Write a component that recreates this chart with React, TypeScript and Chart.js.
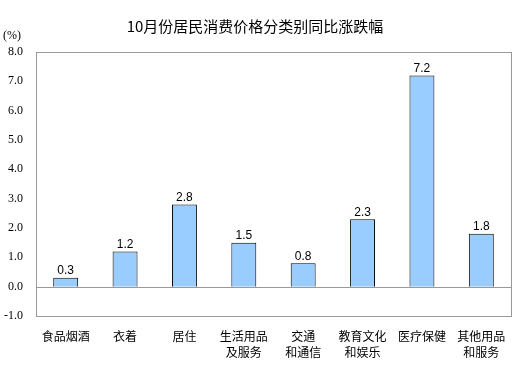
import React, { useEffect, useRef } from "react";
import { Chart, registerables } from "chart.js";

Chart.register(...registerables);

const title = "10月份居民消费价格分类别同比涨跌幅";
const unitLabel = "(%)";
const categories: (string | string[])[] = [
  "食品烟酒",
  "衣着",
  "居住",
  ["生活用品", "及服务"],
  ["交通", "和通信"],
  ["教育文化", "和娱乐"],
  "医疗保健",
  ["其他用品", "和服务"],
];
const values = [0.3, 1.2, 2.8, 1.5, 0.8, 2.3, 7.2, 1.8];
const yMin = -1;
const yMax = 8;

const decorPlugin = {
  id: "decor",
  afterDatasetsDraw(chart: any) {
    const { ctx, chartArea } = chart;
    const y = chart.scales.y;
    ctx.save();
    ctx.strokeStyle = "#999999";
    ctx.lineWidth = 1;
    const y0 = Math.round(y.getPixelForValue(0)) + 0.5;
    ctx.beginPath();
    ctx.moveTo(chartArea.left, y0);
    ctx.lineTo(chartArea.right, y0);
    ctx.stroke();
    ctx.strokeRect(
      Math.round(chartArea.left) + 0.5,
      Math.round(chartArea.top) + 0.5,
      Math.round(chartArea.right - chartArea.left),
      Math.round(chartArea.bottom - chartArea.top)
    );
    const meta = chart.getDatasetMeta(0);
    ctx.fillStyle = "#000";
    ctx.font = "12px 'Liberation Sans', Arial, sans-serif";
    ctx.textAlign = "center";
    ctx.textBaseline = "bottom";
    meta.data.forEach((bar: any, i: number) => {
      ctx.fillText(values[i].toFixed(1), bar.x, bar.y - 1);
    });
    ctx.font = "15px 'Noto Sans CJK SC', sans-serif";
    ctx.textBaseline = "middle";
    ctx.fillText(title, 255, 26);
    ctx.font = "12px 'Liberation Serif', serif";
    ctx.textAlign = "left";
    ctx.fillText(unitLabel, 3, 36);
    ctx.restore();
  },
};

export default function App() {
  const ref = useRef<HTMLCanvasElement>(null);
  useEffect(() => {
    document.body.style.margin = "0";
    const chart = new Chart(ref.current!, {
      type: "bar",
      data: {
        labels: categories,
        datasets: [
          {
            data: values,
            backgroundColor: "#99CCFF",
            borderColor: "#000000",
            borderWidth: 1,
            barPercentage: 0.42,
            categoryPercentage: 1,
          },
        ],
      },
      options: {
        animation: false,
        responsive: false,
        layout: { padding: { top: 52, right: 14, left: 0, bottom: 0 } },
        plugins: { legend: { display: false }, tooltip: { enabled: false }, title: { display: false } },
        scales: {
          x: {
            grid: { display: false, drawTicks: false },
            border: { display: false },
            afterFit(scale: any) {
              scale.height = 54;
            },
            ticks: {
              color: "#000",
              font: { family: "'Noto Sans CJK SC', sans-serif", size: 12, lineHeight: 1.35 },
              padding: 12,
              maxRotation: 0,
              autoSkip: false,
            },
          },
          y: {
            min: yMin,
            max: yMax,
            grid: { display: false, drawTicks: false },
            border: { display: false },
            afterFit(scale: any) {
              scale.width = 36;
            },
            ticks: {
              stepSize: 1,
              color: "#000",
              font: { family: "'Liberation Serif', serif", size: 12 },
              padding: 13,
              callback: (v: any) => Number(v).toFixed(1),
            },
          },
        },
      },
      plugins: [decorPlugin],
    });
    return () => chart.destroy();
  }, []);
  return (
    <div style={{ width: 525, height: 370 }}>
      <canvas ref={ref} width={525} height={370} />
    </div>
  );
}
